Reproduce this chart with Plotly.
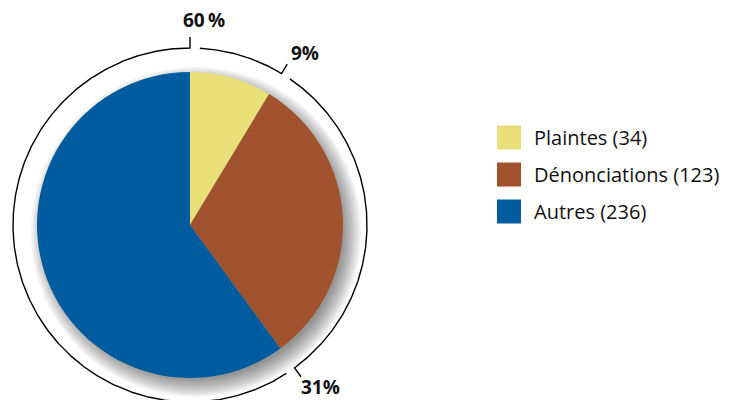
import math
import plotly.graph_objects as go

# Répartition des dossiers
categories = ["Plaintes", "Dénonciations", "Autres"]
counts = [34, 123, 236]
colors = ["#E8DF78", "#A0522F", "#005C9E"]
pct_labels = ["9%", "31%", "60\u2009%"]

W, H = 734, 400
CX, CY, R = 190, 225, 153        # pie centre / radius (px)
RING_R = 177                      # outer ring radius
TICK = 11                         # tick length at the end of each arc
GAP_DEG = 3.2                     # gap at the start of each arc
FONT = "Open Sans"

total = sum(counts)
bounds = [0.0]
for c in counts:
    bounds.append(bounds[-1] + c / total * 360.0)


def pt(theta, r):
    t = math.radians(theta)
    return CX + r * math.sin(t), CY - r * math.cos(t)


fig = go.Figure()

# soft drop shadow under the pie
for k in range(10):
    rr = 165 - 2 * k
    fig.add_shape(type="circle", xref="x", yref="y",
                  x0=CX + 6 - rr, x1=CX + 6 + rr, y0=CY + 7 - rr, y1=CY + 7 + rr,
                  fillcolor="rgba(0,0,0,0.05)", line_width=0, layer="below")

# outer ring: one arc per slice, ending with a radial tick
for i in range(len(counts)):
    a0, a1 = bounds[i] + GAP_DEG, bounds[i + 1]
    n = max(2, int((a1 - a0) / 0.5))
    xs, ys = [], []
    for j in range(n + 1):
        x, y = pt(a0 + (a1 - a0) * j / n, RING_R)
        xs.append(x)
        ys.append(y)
    x, y = pt(a1, RING_R + TICK)
    xs.append(x)
    ys.append(y)
    fig.add_trace(go.Scatter(x=xs, y=ys, mode="lines",
                             line=dict(color="black", width=1.4),
                             hoverinfo="skip", showlegend=False))

# percentage labels next to each tick
offsets = [(9, 3), (9, -3), (14, 0)]
for i, lab in enumerate(pct_labels):
    x, y = pt(bounds[i + 1], 205)
    dx, dy = offsets[i]
    fig.add_annotation(x=x + dx, y=y + dy, xref="x", yref="y", text=f"<b>{lab}</b>",
                       showarrow=False, xanchor="center", yanchor="middle",
                       font=dict(family=FONT, size=19, color="#111"))

fig.add_trace(go.Pie(
    values=counts, labels=categories, sort=False, direction="clockwise",
    rotation=0, textinfo="none", hole=0,
    marker=dict(colors=colors, line=dict(width=0)),
    domain=dict(x=[(CX - R) / W, (CX + R) / W],
                y=[(H - CY - R) / H, (H - CY + R) / H]),
    showlegend=False,
))

# legend
LX, LY, LS, STEP = 497, 137.5, 24, 37
for i, (cat, n) in enumerate(zip(categories, counts)):
    yc = LY + STEP * i
    fig.add_shape(type="rect", xref="x", yref="y",
                  x0=LX, x1=LX + LS, y0=yc - LS / 2, y1=yc + LS / 2,
                  fillcolor=colors[i], line_width=0)
    fig.add_annotation(x=LX + LS + 11, y=yc, xref="x", yref="y",
                       text=f"{cat} ({n})", showarrow=False,
                       xanchor="left", yanchor="middle",
                       font=dict(family=FONT, size=20, color="#111"))

fig.update_layout(
    width=W, height=H, margin=dict(l=0, r=0, t=0, b=0),
    paper_bgcolor="white", plot_bgcolor="white",
    xaxis=dict(range=[0, W], visible=False, fixedrange=True),
    yaxis=dict(range=[H, 0], visible=False, fixedrange=True),
    showlegend=False,
)

fig.write_html("out.html")
